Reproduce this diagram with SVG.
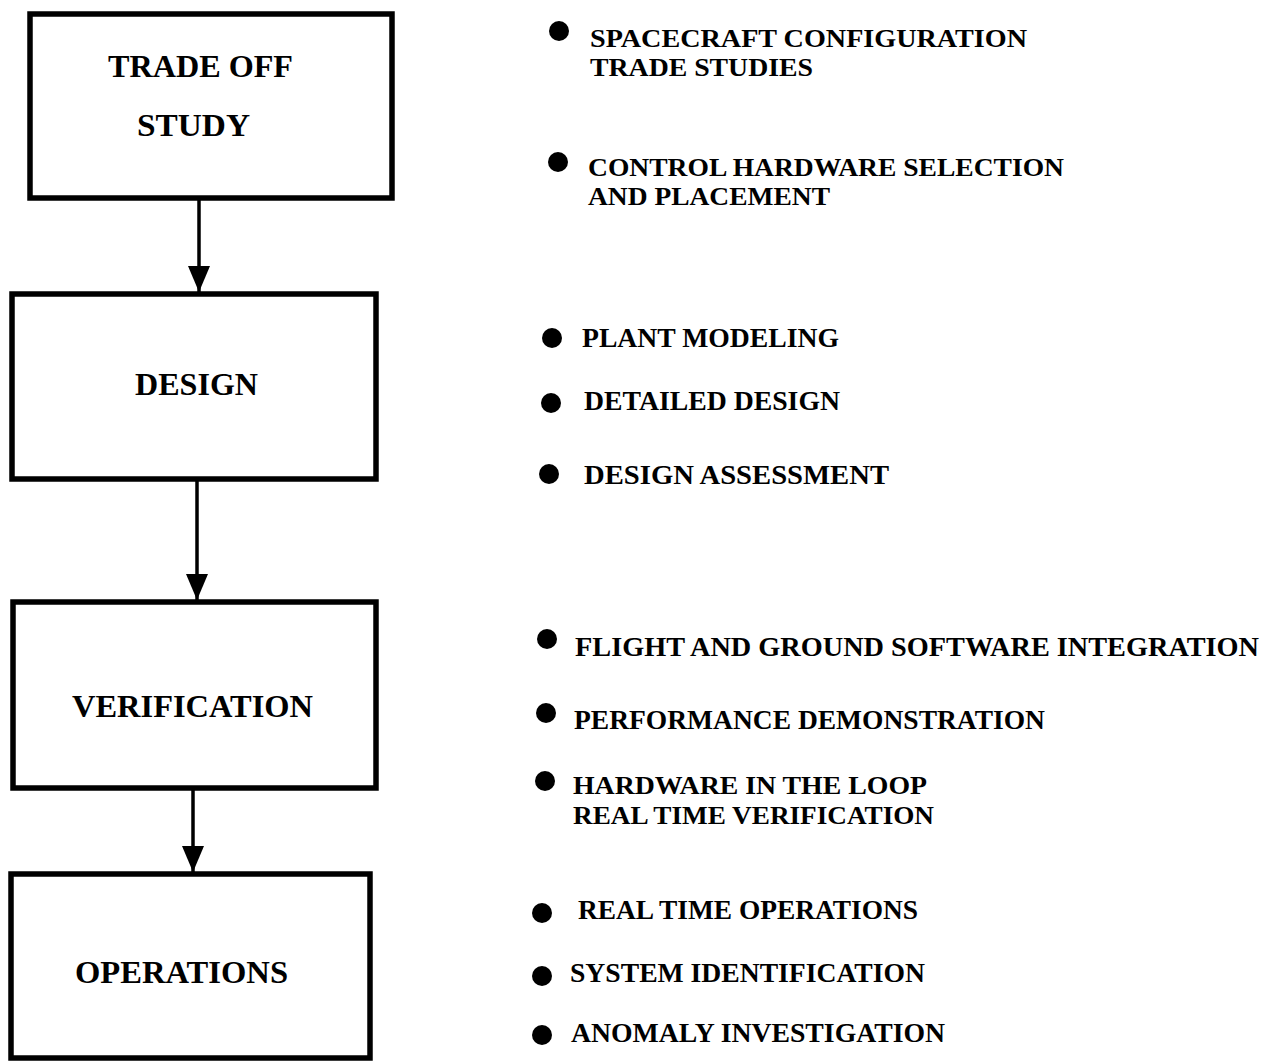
<svg xmlns="http://www.w3.org/2000/svg" width="1266" height="1063" viewBox="0 0 1266 1063">
<style>
.box{fill:#fff;stroke:#000;stroke-width:5.5}
.bt{font-family:"Liberation Serif","Times New Roman",serif;font-weight:bold;font-size:32px;fill:#000}
.it{font-family:"Liberation Serif","Times New Roman",serif;font-weight:bold;font-size:28px;fill:#000}
.it2{font-family:"Liberation Serif","Times New Roman",serif;font-weight:bold;font-size:26px;fill:#000}
.conn{stroke:#000;stroke-width:3.5;fill:none}
.dot{fill:#000}
</style>
<defs>
<marker id="ah" markerUnits="userSpaceOnUse" markerWidth="26" markerHeight="28" refX="26" refY="11" orient="auto" viewBox="0 0 26 22">
<path d="M0,0 L26,11 L0,22 Z" fill="#000"/>
</marker>
</defs>
<rect width="1266" height="1063" fill="#fff"/>
<g id="connectors">
<line class="conn" x1="199" y1="200" x2="199" y2="292" marker-end="url(#ah)"/>
<line class="conn" x1="197" y1="481" x2="197" y2="600" marker-end="url(#ah)"/>
<line class="conn" x1="193" y1="790" x2="193" y2="872" marker-end="url(#ah)"/>
</g>
<g id="node-tradeoff">
<rect class="box" x="30" y="14" width="362" height="184"/>
<text class="bt" x="108" y="77" textLength="185" lengthAdjust="spacingAndGlyphs">TRADE OFF</text>
<text class="bt" x="137" y="136" textLength="113" lengthAdjust="spacingAndGlyphs">STUDY</text>
</g>
<g id="node-design">
<rect class="box" x="12" y="294" width="364" height="185"/>
<text class="bt" x="135" y="395" textLength="123" lengthAdjust="spacingAndGlyphs">DESIGN</text>
</g>
<g id="node-verification">
<rect class="box" x="13" y="602" width="363" height="186"/>
<text class="bt" x="72" y="717" textLength="241" lengthAdjust="spacingAndGlyphs">VERIFICATION</text>
</g>
<g id="node-operations">
<rect class="box" x="11" y="874" width="359" height="184"/>
<text class="bt" x="75" y="983" textLength="213" lengthAdjust="spacingAndGlyphs">OPERATIONS</text>
</g>
<g id="list-tradeoff">
<circle class="dot" cx="559" cy="31" r="10"/>
<text class="it2" x="590" y="47" textLength="437" lengthAdjust="spacingAndGlyphs">SPACECRAFT CONFIGURATION</text>
<text class="it2" x="590" y="76" textLength="223" lengthAdjust="spacingAndGlyphs">TRADE STUDIES</text>
<circle class="dot" cx="558" cy="162" r="10"/>
<text class="it2" x="588" y="176" textLength="476" lengthAdjust="spacingAndGlyphs">CONTROL HARDWARE SELECTION</text>
<text class="it2" x="588" y="205" textLength="242" lengthAdjust="spacingAndGlyphs">AND PLACEMENT</text>
</g>
<g id="list-design">
<circle class="dot" cx="552" cy="338" r="10"/>
<text class="it" x="582" y="347" textLength="257" lengthAdjust="spacingAndGlyphs">PLANT MODELING</text>
<circle class="dot" cx="551" cy="403" r="10"/>
<text class="it" x="584" y="410" textLength="256" lengthAdjust="spacingAndGlyphs">DETAILED DESIGN</text>
<circle class="dot" cx="549" cy="474" r="10"/>
<text class="it" x="584" y="484" textLength="305" lengthAdjust="spacingAndGlyphs">DESIGN ASSESSMENT</text>
</g>
<g id="list-verification">
<circle class="dot" cx="547" cy="639" r="10"/>
<text class="it" x="575" y="656" textLength="684" lengthAdjust="spacingAndGlyphs">FLIGHT AND GROUND SOFTWARE INTEGRATION</text>
<circle class="dot" cx="546" cy="713" r="10"/>
<text class="it" x="574" y="729" textLength="471" lengthAdjust="spacingAndGlyphs">PERFORMANCE DEMONSTRATION</text>
<circle class="dot" cx="545" cy="781" r="10"/>
<text class="it2" x="573" y="794" textLength="354" lengthAdjust="spacingAndGlyphs">HARDWARE IN THE LOOP</text>
<text class="it2" x="573" y="824" textLength="361" lengthAdjust="spacingAndGlyphs">REAL TIME VERIFICATION</text>
</g>
<g id="list-operations">
<circle class="dot" cx="542" cy="913" r="10"/>
<text class="it" x="578" y="919" textLength="340" lengthAdjust="spacingAndGlyphs">REAL TIME OPERATIONS</text>
<circle class="dot" cx="542" cy="976" r="10"/>
<text class="it" x="570" y="982" textLength="355" lengthAdjust="spacingAndGlyphs">SYSTEM IDENTIFICATION</text>
<circle class="dot" cx="542" cy="1035" r="10"/>
<text class="it" x="571" y="1042" textLength="374" lengthAdjust="spacingAndGlyphs">ANOMALY INVESTIGATION</text>
</g>
</svg>
